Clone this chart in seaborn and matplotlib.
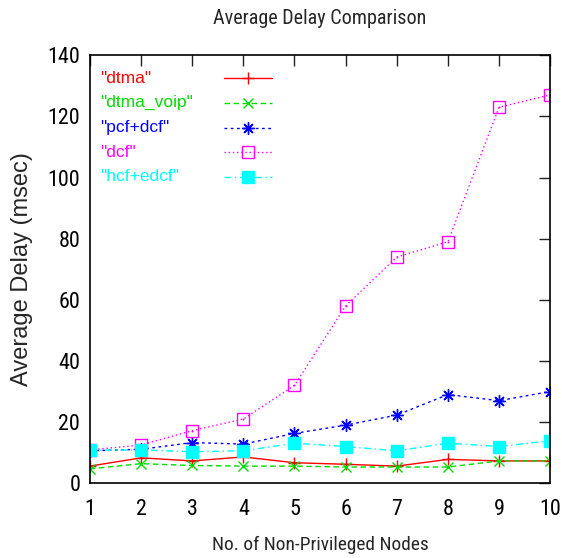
import matplotlib
matplotlib.use("Agg")
import matplotlib.pyplot as plt
import seaborn as sns
import pandas as pd
from matplotlib import font_manager
from matplotlib.font_manager import FontProperties

nodes = [1, 2, 3, 4, 5, 6, 7, 8, 9, 10]
dtma = [5.6, 8.3, 7.3, 8.6, 6.7, 6.2, 5.6, 7.8, 7.3, 7.3]
dtma_voip = [4.7, 6.4, 5.8, 5.6, 5.6, 5.3, 5.3, 5.3, 7.3, 7.3]
pcf_dcf = [10.6, 11.1, 13.3, 12.8, 16.3, 19.0, 22.3, 29.0, 27.0, 30.0]
dcf = [10.9, 12.5, 17.2, 21.0, 32.0, 58.0, 74.0, 79.0, 123.0, 127.0]
hcf_edcf = [10.8, 10.9, 10.3, 10.6, 13.1, 12.0, 10.6, 13.1, 12.0, 13.9]

names = ['"dtma"', '"dtma_voip"', '"pcf+dcf"', '"dcf"', '"hcf+edcf"']
series = [dtma, dtma_voip, pcf_dcf, dcf, hcf_edcf]
colors = ["#ff0000", "#00dd00", "#0000ff", "#ff00ff", "#00ffff"]

sns.set_theme(style="white")
plt.rcParams["font.family"] = ["Liberation Sans", "DejaVu Sans"]

# look for a condensed sans font for the narrow gnuplot-style texts
cond_fp = None
wscale = 1.0
entries = font_manager.fontManager.ttflist
def _regular(f):
    return f.style == "normal" and f.weight in (400, "normal", "regular", "book")
for f in entries:
    if f.name == "Liberation Sans Narrow" and _regular(f):
        cond_fp, wscale = f.fname, 0.82
        break
if cond_fp is None:
    for f in entries:
        if f.name in ("Roboto Condensed",) and _regular(f):
            cond_fp, wscale = f.fname, 0.88
            break
if cond_fp is None:
    for f in entries:
        if f.name == "Roboto" and f.stretch in ("condensed", "semi-condensed") and _regular(f):
            cond_fp, wscale = f.fname, 0.88
            break

def cprops(size):
    if cond_fp:
        return FontProperties(fname=cond_fp, size=size / wscale)
    return FontProperties(family="Liberation Sans", size=size)

fig = plt.figure(figsize=(5.62, 5.58), dpi=100)
ax_rect = [0.160, 0.134, 0.819, 0.767]
ax = fig.add_axes(ax_rect)

styles = [
    dict(linestyle="-", marker="+", markersize=9, filled=False),
    dict(linestyle=(0, (4, 2.5)), marker="x", markersize=7, filled=False),
    dict(linestyle=(0, (2, 2.5)), marker=(8, 2, 0), markersize=9, filled=False),
    dict(linestyle=(0, (1, 2)), marker="s", markersize=9, filled=False),
    dict(linestyle=(0, (5, 2.5, 1, 2.5)), marker="s", markersize=8, filled=True),
]

handles = []
for name, vals, col, st in zip(names, series, colors, styles):
    df = pd.DataFrame({"x": nodes, "y": vals})
    sns.lineplot(data=df, x="x", y="y", ax=ax, color=col, linewidth=1.0,
                 linestyle=st["linestyle"], marker=st["marker"],
                 markersize=st["markersize"], markeredgecolor=col,
                 markerfacecolor=(col if st["filled"] else "none"),
                 markeredgewidth=1.0, legend=False)
    handles.append(ax.lines[-1])
    if name == '"dcf"':
        sns.scatterplot(data=df, x="x", y="y", ax=ax, color=col, s=2,
                        linewidth=0, legend=False)

ax.set_xlim(1, 10)
ax.set_ylim(0, 140)
ax.set_xticks(nodes)
ax.set_yticks(range(0, 141, 20))
ax.tick_params(direction="in", length=8, width=1, top=True, right=True,
               colors="#222222", labelcolor="black")
ax.tick_params(axis="x", pad=11)
ax.tick_params(axis="y", pad=7)
tfp = cprops(14)
for lab in ax.get_xticklabels() + ax.get_yticklabels():
    lab.set_fontproperties(tfp)
for s in ax.spines.values():
    s.set_color("black")
    s.set_linewidth(1.2)

ax.set_xlabel("No. of Non-Privileged Nodes", fontproperties=cprops(12.3), labelpad=12)
ax.set_ylabel("Average Delay (msec)", fontsize=17)
ax.yaxis.set_label_coords(-0.124, 0.5)
fig.text(ax_rect[0] + ax_rect[2] / 2, 0.966, "Average Delay Comparison",
         ha="center", va="center", fontproperties=cprops(12.8))

# legend: line samples on the right, coloured labels left-aligned
fs = 12.5
hl = 2.8
leg = ax.legend(handles, [" "] * 5, loc="upper left", frameon=False,
                fontsize=fs, handlelength=hl, handletextpad=0.0,
                labelspacing=0.8, borderpad=0, borderaxespad=0,
                bbox_to_anchor=(0.291, 0.95))
ax_h = ax.bbox.height
ax_w = ax.bbox.width
target_first = 78.3   # px from top of figure
target_step = 24.6    # px between rows
fig_h = fig.bbox.height
for _ in range(3):
    fig.canvas.draw()
    ys = [(l.get_window_extent().y0 + l.get_window_extent().y1) / 2
          for l in leg.get_lines()]
    step = (ys[0] - ys[-1]) / 4.0
    first = fig_h - ys[0]
    ls = leg.labelspacing + (target_step - step) / (fs * 100 / 72)
    anchor = leg.get_bbox_to_anchor()
    x0, y0 = ax.transAxes.inverted().transform((anchor.x0, anchor.y0))
    y0 += (first - target_first) / ax_h
    leg.remove()
    leg = ax.legend(handles, [" "] * 5, loc="upper left", frameon=False,
                    fontsize=fs, handlelength=hl, handletextpad=0.0,
                    labelspacing=ls, borderpad=0, borderaxespad=0,
                    bbox_to_anchor=(0.291, y0))
fig.canvas.draw()
for l, name, col in zip(leg.get_lines(), names, colors):
    bb = l.get_window_extent()
    yc = (bb.y0 + bb.y1) / 2
    _, ya = ax.transAxes.inverted().transform((0, yc))
    ax.text(10 / ax_w, ya, name, transform=ax.transAxes, color=col,
            fontsize=fs, ha="left", va="center")

fig.savefig("out.png", dpi=100)
